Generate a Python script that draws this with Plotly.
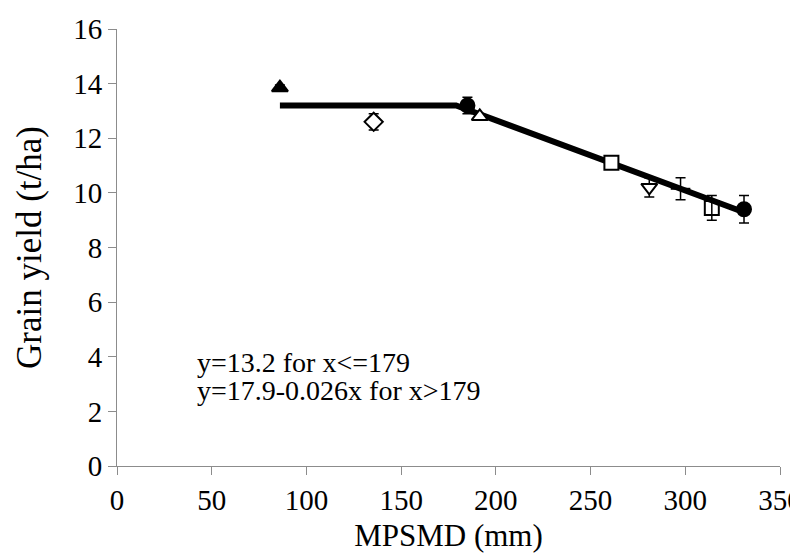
import plotly.graph_objects as go

# Observed treatment means
mpsmd = [86, 135.5, 185, 191.5, 261, 281, 297.5, 314, 331]
grain_yield = [13.85, 12.6, 13.2, 12.8, 11.1, 10.2, 10.15, 9.45, 9.4]
yield_err = [0.1, 0.3, 0.3, 0.1, 0.1, 0.35, 0.4, 0.45, 0.5]
symbols = ["triangle-up", "diamond", "circle", "triangle-up", "square",
           "triangle-down", "line-ew", "square", "circle"]
fills = ["black", "white", "black", "white", "white", "white", "black", "rgba(0,0,0,0)", "black"]

# Fitted broken-stick model
fit_x = [86, 179, 331]
fit_y = [13.2, 13.2, 9.29]

# Equation text
eq_lines = ["y=13.2 for x<=179", "y=17.9-0.026x for x>179"]
eq_y = [3.80, 2.76]

axis_color = "#8c8c8c"
font_family = "Liberation Serif, Times New Roman, serif"

fig = go.Figure()
fig.add_trace(go.Scatter(
    x=fit_x, y=fit_y, mode="lines",
    line=dict(color="black", width=6),
    showlegend=False, hoverinfo="skip",
))
fig.add_trace(go.Scatter(
    x=mpsmd, y=grain_yield, mode="markers",
    marker=dict(symbol=symbols, size=14, color=fills,
                line=dict(color="black", width=2)),
    error_y=dict(type="data", array=yield_err, color="black",
                 thickness=1.5, width=5),
    showlegend=False,
))

for txt, yy in zip(eq_lines, eq_y):
    fig.add_annotation(
        x=41, y=yy, xref="x", yref="y", text=txt,
        showarrow=False, xanchor="left", yanchor="middle", align="left",
        font=dict(family=font_family, size=28, color="black"),
    )

fig.update_layout(
    width=798, height=559,
    margin=dict(l=109, r=26, t=21, b=101),
    plot_bgcolor="white", paper_bgcolor="white",
    font=dict(family=font_family, size=29, color="black"),
    showlegend=False,
)
fig.update_xaxes(
    range=[0, 350], tickvals=[0, 50, 100, 150, 200, 250, 300, 350],
    showgrid=False, zeroline=False, automargin=False,
    showline=True, linecolor=axis_color, linewidth=1,
    ticks="outside", tickcolor=axis_color, ticklen=8, tickwidth=1,
    tickfont=dict(size=29),
    title=dict(text="MPSMD (mm)", font=dict(size=31), standoff=9),
)
fig.update_yaxes(
    range=[0, 16], tickvals=[0, 2, 4, 6, 8, 10, 12, 14, 16],
    showgrid=False, zeroline=False, automargin=False,
    showline=True, linecolor=axis_color, linewidth=1,
    ticks="outside", tickcolor=axis_color, ticklen=8, tickwidth=1,
    tickfont=dict(size=29),
    title=dict(text="Grain yield (t/ha)", font=dict(size=35), standoff=20),
)

fig.write_html("out.html")
